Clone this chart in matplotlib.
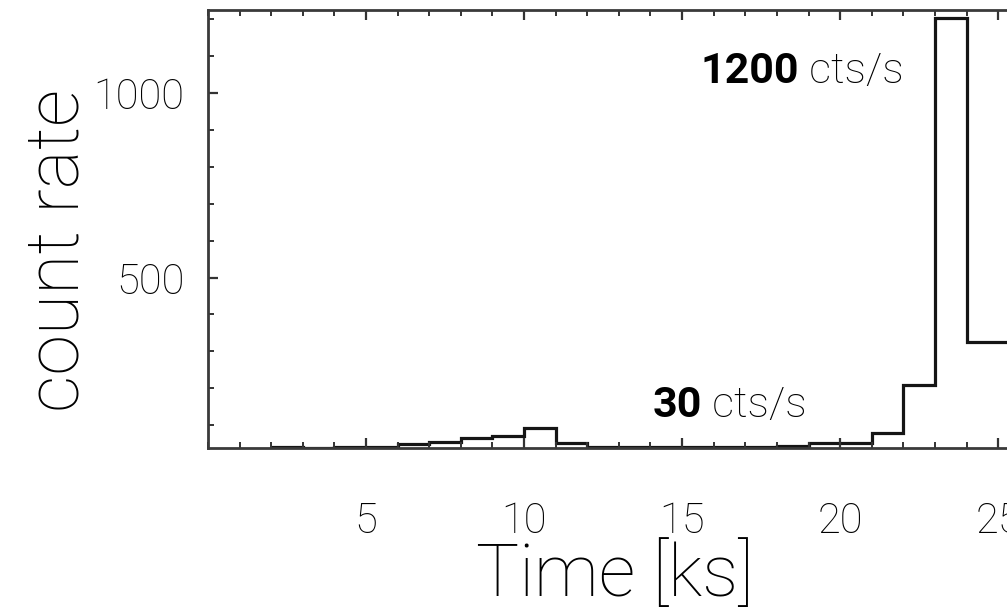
import matplotlib.pyplot as plt
from matplotlib.ticker import MultipleLocator

# light-rate curve, 1 ks bins
bin_edges = [2, 3, 4, 5, 6, 7, 8, 9, 10, 11, 12, 13, 14, 15, 16, 17, 18, 19, 20, 21, 22, 23, 24, 26]
count_rate = [41, 39, 41, 41, 49, 54, 65, 70, 92, 51, 42, 42, 42, 42, 42, 41, 43, 51, 51, 79, 209, 1203, 325]

x_ticks = [5, 10, 15, 20, 25]
y_ticks = [500, 1000]

plt.rcParams['font.family'] = ['Roboto', 'DejaVu Sans']

fig = plt.figure(figsize=(10.07, 6.13), dpi=100)
ax = fig.add_axes([208 / 1007, 165 / 613, 1 - 208 / 1007, 438 / 613])

ax.stairs(count_rate, bin_edges, color='#151515', linewidth=2.3, baseline=None)

ax.set_xlim(0, 25.28)
ax.set_ylim(38, 1225)

ax.set_xticks(x_ticks)
ax.set_yticks(y_ticks)
ax.xaxis.set_minor_locator(MultipleLocator(1))
ax.yaxis.set_minor_locator(MultipleLocator(100))
ax.tick_params(which='both', direction='in', top=True, right=False, color='#333333')
ax.tick_params(which='major', length=7, width=1.6)
ax.tick_params(which='minor', length=4, width=1.4)
ax.tick_params(axis='x', which='major', pad=38, labelsize=30)
ax.tick_params(axis='y', which='major', pad=17, labelsize=30)
for lab in ax.get_xticklabels() + ax.get_yticklabels():
    lab.set_fontweight('light')

for side in ['left', 'top', 'bottom']:
    ax.spines[side].set_linewidth(2)
    ax.spines[side].set_color('#3a3a3a')
ax.spines['right'].set_visible(False)

ax.set_xlabel('Time [ks]', fontsize=52, fontweight='light')
ax.set_ylabel('count rate', fontsize=53, fontweight='light')
ax.xaxis.set_label_coords(0.509, -0.212)
ax.yaxis.set_label_coords(-0.143, 0.452)

# annotations: bold number + light unit
ax.text(18.7, 1057, '1200', fontsize=31, fontweight='bold', ha='right', va='center')
ax.text(18.7, 1057, ' cts/s', fontsize=31, fontweight='light', ha='left', va='center')
ax.text(15.63, 154, '30', fontsize=31, fontweight='bold', ha='right', va='center')
ax.text(15.63, 154, ' cts/s', fontsize=31, fontweight='light', ha='left', va='center')

plt.savefig('out.png', dpi=100)
